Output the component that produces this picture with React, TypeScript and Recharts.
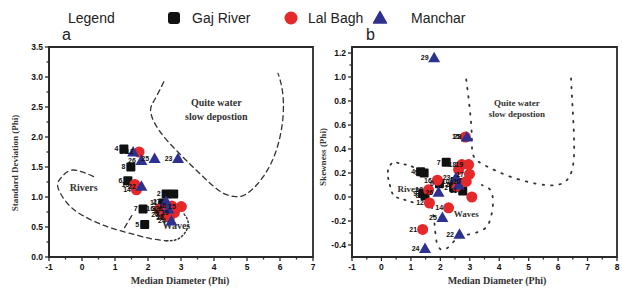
import React from "react"
import { ComposedChart, Line, Scatter, XAxis, YAxis, ReferenceArea, LabelList } from "recharts"

const AXIS = "#2a2a2a"
const RED = "#e5282a"
const NAVY = "#2e318f"
const BLACK = "#111111"
const SANS = "Liberation Sans, Arial, sans-serif"
const SERIF = "Liberation Serif, Times New Roman, serif"

// ---- panel a : median diameter vs standard deviation ----
const gajA = [
  { id: "1", x: 2.78, y: 1.05 },
  { id: "2", x: 2.55, y: 1.05 },
  { id: "3", x: 2.4, y: 0.8 },
  { id: "4", x: 1.27, y: 1.8 },
  { id: "5", x: 1.9, y: 0.54 },
  { id: "6", x: 1.39, y: 1.27 },
  { id: "7", x: 1.85, y: 0.8 },
  { id: "8", x: 1.48, y: 1.5 },
  { id: "9", x: 2.5, y: 0.72 },
  { id: "10", x: 2.65, y: 0.68 },
  { id: "11", x: 2.45, y: 0.9 },
]
const lalA = [
  { id: "12", x: 1.73, y: 1.75 },
  { id: "13", x: 1.6, y: 1.21 },
  { id: "14", x: 1.65, y: 1.12 },
  { id: "15", x: 3.01, y: 0.84 },
  { id: "16", x: 2.35, y: 0.8 },
  { id: "17", x: 2.55, y: 0.78 },
  { id: "18", x: 2.72, y: 0.85 },
  { id: "19", x: 2.8, y: 0.74 },
  { id: "20", x: 2.5, y: 0.7 },
  { id: "21", x: 2.65, y: 0.66 },
]
const manA = [
  { id: "22", x: 1.8, y: 1.18 },
  { id: "23", x: 2.91, y: 1.64 },
  { id: "24", x: 2.71, y: 0.6 },
  { id: "25", x: 2.2, y: 1.64 },
  { id: "26", x: 1.8, y: 1.61 },
  { id: "27", x: 2.55, y: 0.93 },
  { id: "28", x: 2.62, y: 0.8 },
  { id: "29", x: 1.55, y: 1.75 },
]
const quietA = [
  { x: 2.48, y: 2.92 }, { x: 2.2, y: 2.62 }, { x: 2.08, y: 2.42 }, { x: 2.35, y: 2.1 },
  { x: 2.96, y: 1.72 }, { x: 3.57, y: 1.39 }, { x: 4.17, y: 1.1 }, { x: 4.6, y: 1.01 },
  { x: 4.98, y: 1.05 }, { x: 5.48, y: 1.33 }, { x: 5.89, y: 1.78 }, { x: 6.09, y: 2.33 },
  { x: 6.07, y: 2.78 }, { x: 5.94, y: 3.06 },
]
const riversA = [
  { x: 0.35, y: 1.34 }, { x: -0.27, y: 1.45 }, { x: -0.62, y: 1.33 }, { x: -0.73, y: 1.16 },
  { x: -0.42, y: 0.88 }, { x: 0.03, y: 0.69 }, { x: 0.64, y: 0.53 }, { x: 1.35, y: 0.41 },
  { x: 2.05, y: 0.31 }, { x: 2.56, y: 0.27 },
]
const riversTailA = [{ x: 1.29, y: 0.49 }, { x: 1.52, y: 0.7 }]
const wavesA = [
  { x: 2.56, y: 0.27 }, { x: 2.91, y: 0.3 }, { x: 3.16, y: 0.44 }, { x: 3.21, y: 0.6 }, { x: 3.06, y: 0.74 },
]
const notesA = [
  { x: 4.07, y: 2.58, text: "Quite water" },
  { x: 4.07, y: 2.35, text: "slow depostion" },
  { x: 0.05, y: 1.16, text: "Rivers" },
  { x: 2.86, y: 0.53, text: "Waves" },
]

// ---- panel b : median diameter vs skewness ----
const gajB = [
  { id: "1", x: 2.55, y: 0.1 },
  { id: "2", x: 2.45, y: 0.08 },
  { id: "3", x: 2.62, y: 0.12 },
  { id: "4", x: 1.33, y: 0.21 },
  { id: "5", x: 1.45, y: 0.2 },
  { id: "6", x: 1.97, y: 0.11 },
  { id: "7", x: 2.2, y: 0.29 },
  { id: "8", x: 1.48, y: 0.01 },
  { id: "9", x: 1.4, y: 0.03 },
  { id: "10", x: 2.5, y: 0.13 },
  { id: "11", x: 2.76, y: 0.05 },
]
const lalB = [
  { id: "12", x: 1.63, y: -0.05 },
  { id: "13", x: 1.6, y: 0.06 },
  { id: "14", x: 2.28, y: -0.09 },
  { id: "15", x: 2.85, y: 0.5 },
  { id: "16", x: 1.9, y: 0.14 },
  { id: "17", x: 2.99, y: 0.19 },
  { id: "18", x: 2.73, y: 0.27 },
  { id: "19", x: 2.96, y: 0.27 },
  { id: "20", x: 2.88, y: 0.13 },
  { id: "21", x: 1.4, y: -0.27 },
  { id: "", x: 3.07, y: 0.0 },
  { id: "", x: 2.55, y: 0.09 },
  { id: "", x: 2.62, y: 0.23 },
]
const manB = [
  { id: "22", x: 2.65, y: -0.31 },
  { id: "23", x: 2.53, y: 0.16 },
  { id: "24", x: 1.48, y: -0.43 },
  { id: "25", x: 2.07, y: -0.17 },
  { id: "26", x: 1.94, y: 0.04 },
  { id: "27", x: 2.62, y: 0.1 },
  { id: "28", x: 2.9, y: 0.5 },
  { id: "29", x: 1.79, y: 1.16 },
]
const quietB = [
  { x: 2.88, y: 0.98 }, { x: 2.99, y: 0.755 }, { x: 3.07, y: 0.505 }, { x: 3.13, y: 0.34 },
  { x: 3.58, y: 0.255 }, { x: 4.37, y: 0.17 }, { x: 5.28, y: 0.11 }, { x: 5.96, y: 0.1 },
  { x: 6.36, y: 0.16 }, { x: 6.53, y: 0.31 }, { x: 6.53, y: 0.56 }, { x: 6.47, y: 0.84 },
  { x: 6.44, y: 0.99 },
]
const riversB = [
  { x: 1.3, y: 0.22 }, { x: 0.97, y: 0.26 }, { x: 0.63, y: 0.28 }, { x: 0.35, y: 0.28 },
  { x: 0.21, y: 0.2 }, { x: 0.27, y: 0.12 }, { x: 0.4, y: 0.02 }, { x: 0.74, y: -0.02 },
  { x: 1.14, y: -0.05 },
]
const wavesB = [
  { x: 1.71, y: -0.08 }, { x: 1.78, y: -0.18 }, { x: 1.82, y: -0.27 }, { x: 1.88, y: -0.38 },
  { x: 2.05, y: -0.44 }, { x: 2.31, y: -0.41 }, { x: 2.6, y: -0.34 }, { x: 3.01, y: -0.31 },
  { x: 3.47, y: -0.27 }, { x: 3.69, y: -0.19 }, { x: 3.79, y: -0.05 }, { x: 3.69, y: 0.06 },
  { x: 3.41, y: 0.1 },
]
const notesB = [
  { x: 4.6, y: 0.78, text: "Quite water" },
  { x: 4.6, y: 0.69, text: "slow depostion" },
  { x: 0.97, y: 0.07, text: "Rivers" },
  { x: 2.88, y: -0.14, text: "Waves" },
]

// ticks (majors labelled, minors short)
const ticksXA = [-1, -0.5, 0, 0.5, 1, 1.5, 2, 2.5, 3, 3.5, 4, 4.5, 5, 5.5, 6, 6.5, 7]
const ticksYA = [0, 0.25, 0.5, 0.75, 1, 1.25, 1.5, 1.75, 2, 2.25, 2.5, 2.75, 3, 3.25, 3.5]
const ticksXB = [-1, -0.5, 0, 0.5, 1, 1.5, 2, 2.5, 3, 3.5, 4, 4.5, 5, 5.5, 6, 6.5, 7, 7.5, 8]
const ticksYB = [-0.4, -0.3, -0.2, -0.1, 0, 0.1, 0.2, 0.3, 0.4, 0.5, 0.6, 0.7, 0.8, 0.9, 1.0, 1.1, 1.2]

const near = (a: number, b: number) => Math.abs(a - b) < 1e-6

function XTick(props: any) {
  const { x, y, payload } = props
  const v = payload.value
  const major = Number.isInteger(v)
  const ay = y - 6
  return (
    <g>
      <line x1={x} x2={x} y1={ay} y2={ay + (major ? 4 : 2.5)} stroke={AXIS} strokeWidth={1.3} />
      {major && (
        <text x={x} y={ay + 12.5} textAnchor="middle" fontSize={8.5} fontWeight="bold" fontFamily={SANS} fill="#111">
          {v}
        </text>
      )}
    </g>
  )
}

function makeYTick(step: number) {
  return (props: any) => {
    const { x, y, payload } = props
    const v = payload.value
    const major = near(v / step, Math.round(v / step))
    const ax = x + 6
    return (
      <g>
        <line x1={ax} x2={ax - (major ? 4 : 2.5)} y1={y} y2={y} stroke={AXIS} strokeWidth={1.3} />
        {major && (
          <text x={ax - 6} y={y + 3} textAnchor="end" fontSize={8.5} fontWeight="bold" fontFamily={SANS} fill="#111">
            {v.toFixed(1)}
          </text>
        )}
      </g>
    )
  }
}

const Square = (p: any) => <rect x={p.cx - 4.5} y={p.cy - 4.5} width={9} height={9} rx={1} fill={BLACK} />
const Dot = (p: any) => <circle cx={p.cx} cy={p.cy} r={5.5} fill={RED} />
const Tri = (p: any) => (
  <path d={`M${p.cx},${p.cy - 6} L${p.cx + 6},${p.cy + 4.5} L${p.cx - 6},${p.cy + 4.5} Z`} fill={NAVY} strokeLinejoin="round" />
)
const makeNote = (size: number) => (p: any) => (
  <text x={p.cx} y={p.cy} textAnchor="middle" dominantBaseline="central" fontSize={size} fontWeight="bold" fontFamily={SERIF} fill="#333">
    {p.payload.text}
  </text>
)

const labelStyle = { fontSize: 7, fontWeight: "bold", fill: "#111", fontFamily: SANS }

function Panel(props: {
  width: number
  left: number
  margin: any
  yWidth: number
  xDomain: number[]
  yDomain: number[]
  xTicks: number[]
  yTicks: number[]
  yStep: number
  gaj: any[]
  lal: any[]
  man: any[]
  outlines: { data: any[]; dash: string; width: number }[]
  notes: any[]
  noteSize: number
}) {
  const { width, left, margin, yWidth, xDomain, yDomain, xTicks, yTicks, yStep } = props
  return (
    <div style={{ position: "absolute", left, top: 0 }}>
      <ComposedChart width={width} height={290} margin={margin}>
        <XAxis
          type="number"
          dataKey="x"
          domain={xDomain}
          ticks={xTicks}
          interval={0}
          allowDataOverflow
          tick={(p: any) => <XTick {...p} />}
          tickLine={false}
          tickSize={4}
          tickMargin={2}
          height={33}
          axisLine={{ stroke: AXIS, strokeWidth: 1.8 }}
        />
        <YAxis
          type="number"
          dataKey="y"
          domain={yDomain}
          ticks={yTicks}
          interval={0}
          allowDataOverflow
          tick={makeYTick(yStep)}
          tickLine={false}
          tickSize={4}
          tickMargin={2}
          width={yWidth}
          axisLine={{ stroke: AXIS, strokeWidth: 1.8 }}
        />
        <ReferenceArea
          x1={xDomain[0]}
          x2={xDomain[1]}
          y1={yDomain[0]}
          y2={yDomain[1]}
          fill="none"
          stroke={AXIS}
          strokeWidth={1.8}
        />
        {props.outlines.map((o, i) => (
          <Line
            key={i}
            data={o.data}
            dataKey="y"
            type="natural"
            stroke="#333"
            strokeWidth={o.width}
            strokeDasharray={o.dash}
            strokeLinecap="round"
            dot={false}
            activeDot={false}
            isAnimationActive={false}
          />
        ))}
        <Scatter data={props.notes} shape={makeNote(props.noteSize)} isAnimationActive={false} />
        <Scatter data={props.gaj} shape={Square} isAnimationActive={false}>
          <LabelList dataKey="id" position="left" offset={1} style={labelStyle} />
        </Scatter>
        <Scatter data={props.lal} shape={Dot} isAnimationActive={false}>
          <LabelList dataKey="id" position="left" offset={1} style={labelStyle} />
        </Scatter>
        <Scatter data={props.man} shape={Tri} isAnimationActive={false}>
          <LabelList dataKey="id" position="left" offset={1} style={labelStyle} />
        </Scatter>
      </ComposedChart>
    </div>
  )
}

const abs = (left: number, top: number, extra: any = {}) => ({ position: "absolute" as const, left, top, ...extra })

export default function App() {
  const legendText = { fontFamily: SANS, fontSize: 14, color: "#222", lineHeight: "16px" }
  const axisTitle = { fontFamily: SERIF, fontWeight: "bold" as const, fontSize: 10, color: "#333", whiteSpace: "nowrap" as const }
  return (
    <div style={{ position: "absolute", left: 0, top: 0, width: 622, height: 290, background: "#fff", overflow: "hidden" }}>
      {/* legend row */}
      <div style={abs(68, 10, legendText)}>Legend</div>
      <svg style={abs(167, 11)} width={14} height={14}>
        <rect x={1} y={1} width={12} height={12} rx={3} fill={BLACK} />
      </svg>
      <div style={abs(192, 10, legendText)}>Gaj River</div>
      <svg style={abs(284, 11)} width={14} height={14}>
        <circle cx={7} cy={7} r={6.5} fill={RED} />
      </svg>
      <div style={abs(308, 10, legendText)}>Lal Bagh</div>
      <svg style={abs(372, 10)} width={16} height={15}>
        <path d="M8,1.5 L14.5,13 L1.5,13 Z" fill={NAVY} stroke={NAVY} strokeWidth={1.5} strokeLinejoin="round" />
      </svg>
      <div style={abs(411, 10, legendText)}>Manchar</div>
      <div style={abs(62, 26, { fontFamily: SANS, fontSize: 16, color: "#222" })}>a</div>
      <div style={abs(366, 26, { fontFamily: SANS, fontSize: 16, color: "#222" })}>b</div>

      <Panel
        width={320}
        left={0}
        margin={{ top: 47, right: 7, bottom: 0, left: 0 }}
        yWidth={49}
        xDomain={[-1, 7]}
        yDomain={[0, 3.5]}
        xTicks={ticksXA}
        yTicks={ticksYA}
        yStep={0.5}
        gaj={gajA}
        lal={lalA}
        man={manA}
        outlines={[
          { data: quietA, dash: "5 4", width: 1.3 },
          { data: riversA, dash: "5 4", width: 1.3 },
          { data: riversTailA, dash: "5 4", width: 1.3 },
          { data: wavesA, dash: "1.5 2.5", width: 1.5 },
        ]}
        notes={notesA}
        noteSize={10}
      />
      <Panel
        width={312}
        left={310}
        margin={{ top: 47, right: 5, bottom: 0, left: 0 }}
        yWidth={42}
        xDomain={[-1, 8]}
        yDomain={[-0.5, 1.25]}
        xTicks={ticksXB}
        yTicks={ticksYB}
        yStep={0.2}
        gaj={gajB}
        lal={lalB}
        man={manB}
        outlines={[
          { data: quietB, dash: "1.5 7", width: 1.8 },
          { data: riversB, dash: "1.5 6", width: 1.8 },
          { data: wavesB, dash: "1.5 7", width: 1.8 },
        ]}
        notes={notesB}
        noteSize={9}
      />

      {/* axis titles */}
      <div style={abs(180, 280, { ...axisTitle, transform: "translate(-50%, -50%)" })}>Median Diameter (Phi)</div>
      <div style={abs(497, 280, { ...axisTitle, transform: "translate(-50%, -50%)" })}>Median Diameter (Phi)</div>
      <div style={abs(15, 163, { ...axisTitle, fontSize: 9, transform: "translate(-50%, -50%) rotate(-90deg)" })}>
        Standard Deviation (Phi)
      </div>
      <div style={abs(323, 157, { ...axisTitle, fontSize: 9, transform: "translate(-50%, -50%) rotate(-90deg)" })}>
        Skewness (Phi)
      </div>
    </div>
  )
}
